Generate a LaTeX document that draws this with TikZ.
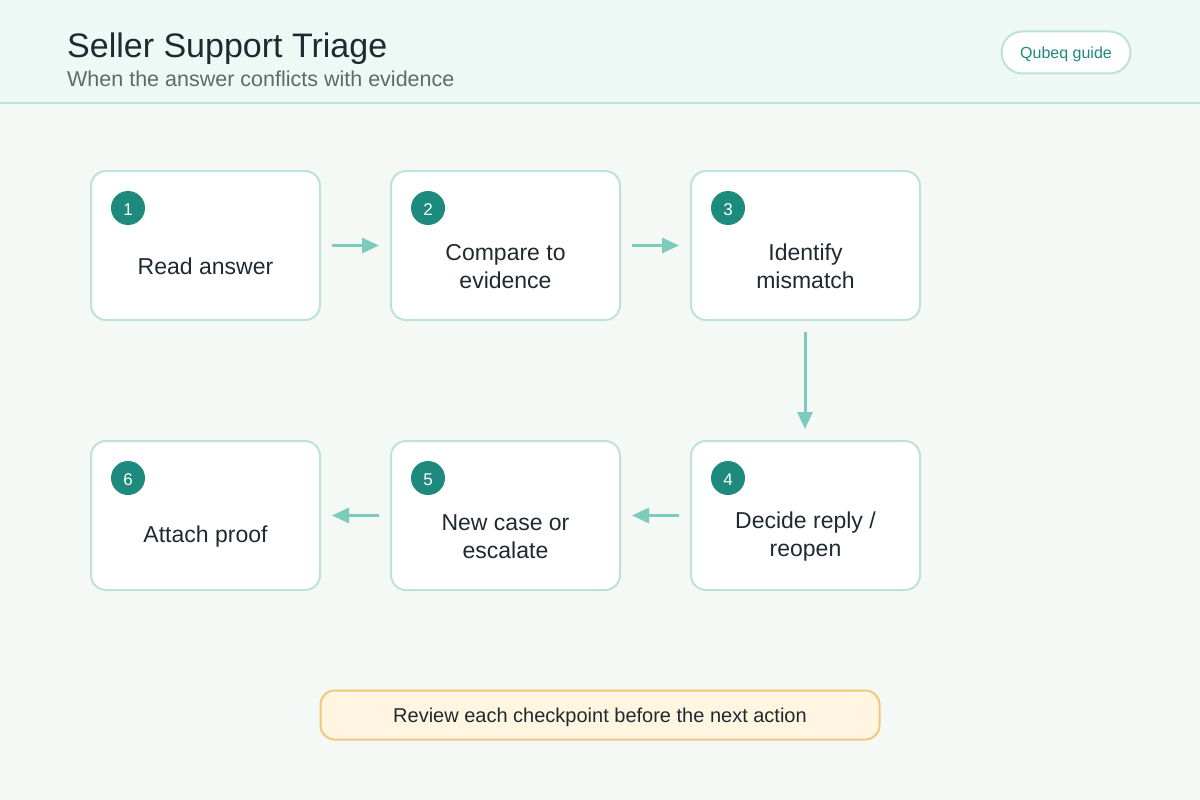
\documentclass[tikz,border=0pt]{standalone}
\usepackage{fontspec}
\setmainfont{Liberation Sans}
\usetikzlibrary{arrows.meta,positioning}
\definecolor{pagebg}{RGB}{244,249,246}
\definecolor{headbg}{RGB}{238,248,245}
\definecolor{mintline}{RGB}{190,226,219}
\definecolor{tealdark}{RGB}{30,138,126}
\definecolor{teallight}{RGB}{124,203,189}
\definecolor{inkdark}{RGB}{31,42,48}
\definecolor{inkgray}{RGB}{93,107,107}
\definecolor{notefill}{RGB}{255,245,224}
\definecolor{notedraw}{RGB}{240,200,120}

\begin{document}
\begin{tikzpicture}[x=1pt,y=1pt,node distance=69pt,
        stepbox/.style={rectangle,rounded corners=15pt,draw=mintline,fill=white,line width=2pt,
          minimum width=229pt,minimum height=149pt},
        steptext/.style={align=center,text=inkdark,font=\fontsize{23}{28}\selectfont},
        badge/.style={circle,fill=tealdark,minimum size=34pt,inner sep=0pt,text=white,
          text height=16pt,text depth=2pt,font=\fontsize{17}{20}\selectfont},
        arrow/.style={-{Triangle[length=17pt,width=15pt]},draw=teallight,line width=3pt,
          shorten <=11pt,shorten >=11pt}]
  % page and header
  \fill[pagebg] (0,0) rectangle (1200,-800);
  \useasboundingbox (0,0) rectangle (1200,-800);
  \fill[headbg] (0,0) rectangle (1200,-103);
  \draw[mintline,line width=2pt] (0,-103) -- (1200,-103);
  \node[anchor=base west,text=inkdark,font=\fontsize{34}{40}\selectfont,inner sep=0pt] (title) at (67,-58) {Seller Support Triage};
  \node[anchor=base west,text=inkgray,font=\fontsize{21.5}{26}\selectfont,inner sep=0pt] (subtitle) at (67,-87) {When the answer conflicts with evidence};
  \node[rectangle,rounded corners=21pt,draw=mintline,fill=white,line width=2pt,minimum width=129pt,
    minimum height=42pt,text height=15pt,text depth=3pt,text=tealdark,font=\fontsize{16}{19}\selectfont] (guide) at (1066,-52.5) {Qubeq guide};

  % steps
  \node[stepbox] (s1) at (205.5,-245.5) {};
  \node[stepbox,right=of s1] (s2) {};
  \node[stepbox,right=of s2] (s3) {};
  \node[stepbox,below=119pt of s3] (s4) {};
  \node[stepbox,left=of s4] (s5) {};
  \node[stepbox,left=of s5] (s6) {};
  \foreach \s/\n in {s1/1,s2/2,s3/3,s4/4,s5/5,s6/6}
    \node[badge] (b\n) at ([xshift=38pt,yshift=-38pt]\s.north west) {\n};
  \node[steptext] (t1) at ([yshift=-21pt]s1.center) {Read answer};
  \node[steptext] (t2) at ([yshift=-21pt]s2.center) {Compare to\\evidence};
  \node[steptext] (t3) at ([yshift=-21pt]s3.center) {Identify\\mismatch};
  \node[steptext] (t4) at ([yshift=-21pt]s4.center) {Decide reply /\\reopen};
  \node[steptext] (t5) at ([yshift=-21pt]s5.center) {New case or\\escalate};
  \node[steptext] (t6) at ([yshift=-21pt]s6.center) {Attach proof};

  \draw[arrow] (s1) -- (s2);
  \draw[arrow] (s2) -- (s3);
  \draw[arrow] ([xshift=-0.5pt]s3.south) -- ([xshift=-0.5pt]s4.north);
  \draw[arrow] (s4) -- (s5);
  \draw[arrow] (s5) -- (s6);

  % note
  \node[rectangle,rounded corners=14pt,draw=notedraw,fill=notefill,line width=2pt,minimum width=559pt,
    minimum height=49pt,text height=17pt,text depth=3pt,text=inkdark,font=\fontsize{20}{24}\selectfont] (note) at (600,-715) {Review each checkpoint before the next action};
\end{tikzpicture}
\end{document}
